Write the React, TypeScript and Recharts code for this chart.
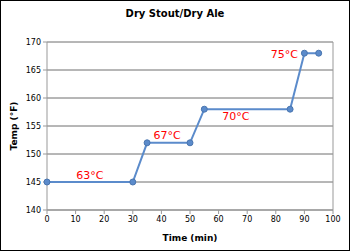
import React from 'react';
import { LineChart, Line, XAxis, YAxis, CartesianGrid, ReferenceDot, ReferenceLine } from 'recharts';

const timeMin = [0, 30, 35, 50, 55, 85, 90, 95];
const tempF = [145, 145, 152, 152, 158, 158, 168, 168];

const stepLabels = ['63°C', '67°C', '70°C', '75°C'];
const stepLabelX = [15, 42, 66, 83];
const stepLabelY = [146.3, 153.4, 156.7, 167.9];

const xTicks = [0, 10, 20, 30, 40, 50, 60, 70, 80, 90, 100];
const yTicks = [140, 145, 150, 155, 160, 165, 170];

const font = '"DejaVu Sans", Verdana, sans-serif';

export default function App() {
  const data = timeMin.map((t, i) => ({ t, temp: tempF[i] }));

  return (
    <div
      style={{
        position: 'absolute',
        left: 0,
        top: 0,
        width: 350,
        height: 251,
        boxSizing: 'border-box',
        border: '1px solid #000',
        background: '#fff',
        fontFamily: font,
      }}
    >
      <div
        style={{
          position: 'absolute',
          top: 7,
          width: '100%',
          textAlign: 'center',
          fontSize: 10,
          fontWeight: 'bold',
          color: '#000',
        }}
      >
        Dry Stout/Dry Ale
      </div>
      <LineChart width={348} height={249} data={data} margin={{ top: 41, right: 16, left: 0, bottom: 0 }}>
        <CartesianGrid vertical={false} stroke="#6e6e6e" strokeDasharray="" />
        <XAxis
          dataKey="t"
          type="number"
          domain={[0, 100]}
          ticks={xTicks}
          height={40}
          stroke="#999"
          tickSize={4}
          tick={{ fill: '#000', fontSize: 8, fontFamily: font }}
          label={{ value: 'Time (min)', position: 'insideBottom', offset: 9, fill: '#000', fontSize: 9, fontWeight: 'bold', fontFamily: font }}
        />
        <YAxis
          type="number"
          domain={[140, 170]}
          ticks={yTicks}
          width={46}
          stroke="#999"
          tickSize={4}
          tick={{ fill: '#000', fontSize: 8, fontFamily: font }}
          label={{ value: 'Temp (°F)', angle: -90, position: 'insideLeft', offset: 13, fill: '#000', fontSize: 9, fontWeight: 'bold', fontFamily: font, style: { textAnchor: 'middle' } }}
        />
        <ReferenceLine x={100} stroke="#999" />
        <Line
          type="linear"
          dataKey="temp"
          stroke="#5B8BCB"
          strokeWidth={2}
          dot={{ r: 3, fill: '#5B8BCB', stroke: '#4A76B0', strokeWidth: 1 }}
          isAnimationActive={false}
        />
        {stepLabels.map((s, i) => (
          <ReferenceDot
            key={s}
            x={stepLabelX[i]}
            y={stepLabelY[i]}
            r={0}
            stroke="none"
            label={{ value: s, position: 'center', fill: '#ff0000', fontSize: 11, fontFamily: font }}
          />
        ))}
      </LineChart>
    </div>
  );
}
